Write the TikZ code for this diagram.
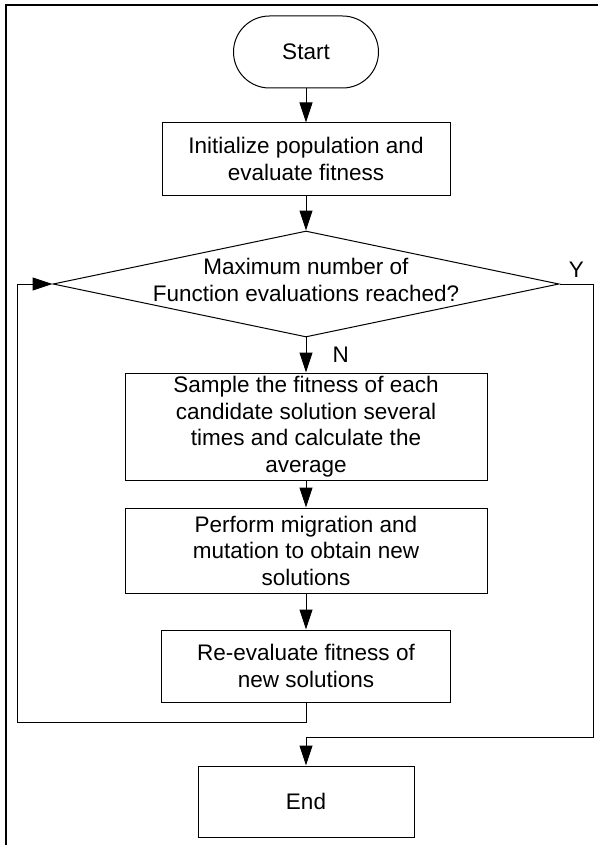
\documentclass[tikz,border=0pt]{standalone}
\usepackage{fontspec}
\setmainfont{Liberation Sans}
\usetikzlibrary{arrows.meta,shapes.geometric}
\newcommand{\chartfont}{\fontsize{22.5pt}{26.5pt}\selectfont}
\tikzset{%
  >={Triangle[width=13pt,length=20pt]},
  % Specifications for style of nodes:
            base/.style = {rectangle, draw=black, line width=1pt,
                           inner sep=0pt, text centered, font=\chartfont},
        terminal/.style = {base, rounded corners=36pt,
                           minimum width=145pt, minimum height=72pt},
         procbox/.style = {base, minimum width=288pt, minimum height=72pt},
        widebox/.style = {base, minimum width=362pt},
        decision/.style = {diamond, draw=black, line width=1pt, inner sep=0pt,
                           minimum width=506pt, minimum height=106pt},
}

\begin{document}
\begin{tikzpicture}[x=1pt, y=1pt, node distance=125pt,
    every node/.style={font=\chartfont}, align=center]
  \useasboundingbox (0,0) rectangle (598,-845);
  % Frame
  \draw[line width=1.8pt] (598,-5) -- (6,-5) -- (6,-845);

  % Specification of nodes (position, etc.)
  \node (start)    [terminal] at (306,-52) {Start};
  \node (init)     [procbox, below of=start, yshift=18pt] {Initialize population and\\evaluate fitness};
  \node (dec)      [decision, below of=init] {};
  \node (dectext)  [yshift=4pt] at (dec) {Maximum number of\\Function evaluations reached?};
  \node (sample)   [widebox, below of=dec, yshift=-17.5pt, minimum height=107pt] {Sample the fitness of each\\candidate solution several\\times and calculate the\\average};
  \node (migrate)  [widebox, below of=sample, yshift=1pt, minimum height=85pt] {Perform migration and\\mutation to obtain new\\solutions};
  \node (reeval)   [procbox, below of=migrate, yshift=9.5pt, minimum width=289pt] {Re-evaluate fitness of\\new solutions};
  \node (finish)   [base, below of=reeval, yshift=-10.5pt, minimum width=216pt, minimum height=71pt] {End};

  \coordinate (loopturn) at (17,-722);
  \coordinate (yesturn)  at (593,-737);

  \begin{scope}[line width=1pt]
  \draw[->]  (start) -- (init);
  \draw[->]  (init) -- (dec);
  \draw[->]  (dec) -- node[midway, right=26pt, inner sep=0pt] {N} (sample);
  \draw[->]  (sample) -- (migrate);
  \draw[->]  (migrate) -- (reeval);
  \draw[->]  (reeval.south) |- (loopturn) |- (dec.west);
  \draw[->]  (dec.east) -| node[pos=0.25, above=6pt, inner sep=0pt] {Y} (yesturn) -| (finish);
  \end{scope}
\end{tikzpicture}
\end{document}
